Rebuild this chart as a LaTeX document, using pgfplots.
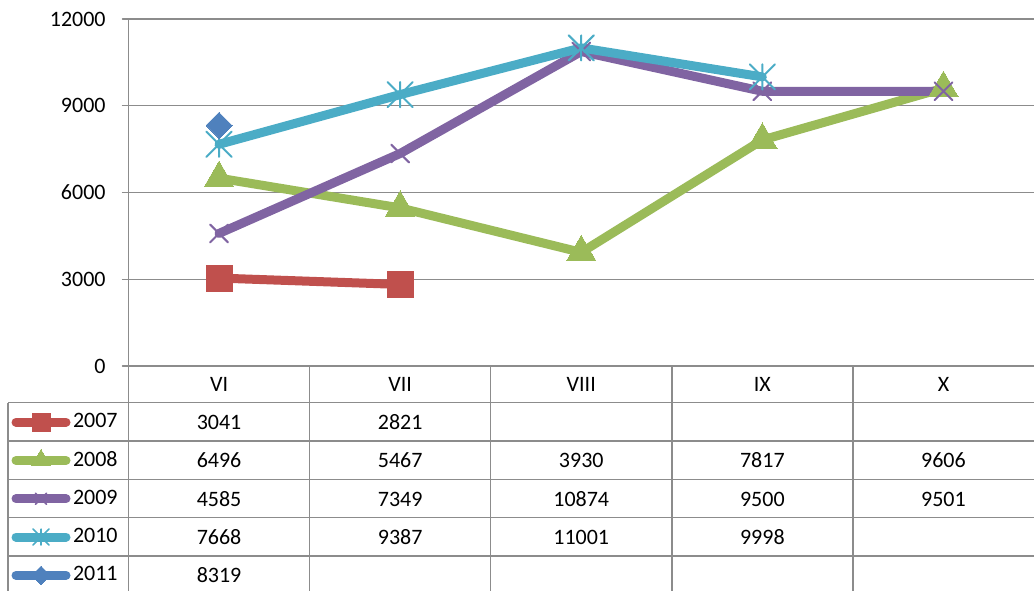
\documentclass[border=0pt]{standalone}
\usepackage{pgfplots}
\pgfplotsset{compat=1.18}
\usepackage{fontspec}
\setmainfont{Carlito}
\definecolor{c07}{HTML}{C0504D}
\definecolor{c08}{HTML}{9BBB59}
\definecolor{c09}{HTML}{8064A2}
\definecolor{c10}{HTML}{4BACC6}
\definecolor{c11}{HTML}{4F81BD}
\definecolor{gl}{HTML}{8C8C8C}
\pgfdeclareplotmark{xstar}{%
  \pgfpathmoveto{\pgfqpoint{-\pgfplotmarksize}{-\pgfplotmarksize}}%
  \pgfpathlineto{\pgfqpoint{\pgfplotmarksize}{\pgfplotmarksize}}%
  \pgfpathmoveto{\pgfqpoint{-\pgfplotmarksize}{\pgfplotmarksize}}%
  \pgfpathlineto{\pgfqpoint{\pgfplotmarksize}{-\pgfplotmarksize}}%
  \pgfpathmoveto{\pgfqpoint{0pt}{-\pgfplotmarksize}}%
  \pgfpathlineto{\pgfqpoint{0pt}{\pgfplotmarksize}}%
  \pgfusepathqstroke}
\begin{document}
\fontsize{11pt}{13pt}\selectfont
\begin{tikzpicture}
\useasboundingbox (0,0) rectangle (517pt,-295.5pt);
\begin{axis}[
  at={(64.25pt,-183pt)}, anchor=south west,
  scale only axis, width=452.75pt, height=173.5pt,
  xmin=-0.5, xmax=4.5, ymin=0, ymax=12000,
  clip=false,
  xtick=\empty,
  ytick={0,3000,6000,9000,12000},
  scaled y ticks=false,
  /pgf/number format/1000 sep={}, /pgf/number format/assume math mode=true,
  axis x line*=bottom, axis y line*=left,
  axis line style={gl, line width=0.7pt, -},
  ymajorgrids, grid style={gl, line width=0.7pt},
  tick align=outside, major tick length=3pt,
  ytick style={gl, line width=0.7pt},
  yticklabel style={anchor=east, inner sep=0pt, xshift=-8.25pt},
  line cap=round, line join=round,
  legend style={at={(axis description cs:-0.1292,-0.1066)}, anchor=north west,
    draw=none, fill=none, inner sep=0pt, outer sep=0pt, row sep=0pt, column sep=1.25pt,
    nodes={inner sep=0pt, outer sep=0pt, minimum height=19.15pt, anchor=west}},
  legend cell align=left,
  legend image code/.code={\draw[line cap=round, #1, mark repeat=2, mark phase=2]
     plot coordinates {(0pt,0pt)(12.5pt,0pt)(25pt,0pt)};},
]
\addplot[forget plot, c07, line width=4.5pt, mark=square*, mark size=6.5pt,
  mark options={line width=0pt, fill=c07}] coordinates {(0,3041)(1,2821)};
\addplot[forget plot, c08, line width=4.5pt, mark=triangle*, mark size=8.5pt,
  mark options={line width=0pt, fill=c08}] coordinates {(0,6496)(1,5467)(2,3930)(3,7817)(4,9606)};
\addplot[forget plot, c09, line width=4.5pt, mark=x, mark size=6.3pt,
  mark options={line width=1pt}] coordinates {(0,4585)(1,7349)(2,10874)(3,9500)(4,9501)};
\addplot[forget plot, c10, line width=4.5pt, mark=xstar, mark size=6.3pt,
  mark options={line width=1pt}] coordinates {(0,7668)(1,9387)(2,11001)(3,9998)};
\addplot[forget plot, c11, line width=4.5pt, mark=square*, mark size=4.6pt,
  mark options={rotate=45, line width=0pt, fill=c11}] coordinates {(0,8319)};
\addlegendimage{c07, line width=4.5pt, mark=square*, mark size=4.5pt, mark options={line width=0pt, fill=c07}}
\addlegendentry{2007}
\addlegendimage{c08, line width=4.5pt, mark=triangle*, mark size=5.5pt, mark options={line width=0pt, fill=c08}}
\addlegendentry{2008}
\addlegendimage{c09, line width=4.5pt, mark=x, mark size=4pt, mark options={line width=0.8pt}}
\addlegendentry{2009}
\addlegendimage{c10, line width=4.5pt, mark=xstar, mark size=4pt, mark options={line width=0.8pt}}
\addlegendentry{2010}
\addlegendimage{c11, line width=4.5pt, mark=square*, mark size=3.3pt, mark options={rotate=45, line width=0pt, fill=c11}}
\addlegendentry{2011}
\end{axis}
\begin{scope}[x=0.5pt, y=-0.5pt]
  \begin{scope}[draw=gl, line width=0.7pt]
    \draw (128.5,366) -- (128.5,591);
    \foreach \x in {309.6,490.7,671.8,852.9} \draw (\x,366) -- (\x,591);
    \draw (8,402.7) -- (8,591);
    \foreach \y in {402.7,441,479.3,517.7,556} \draw (8,\y) -- (1034,\y);
  \end{scope}
  \foreach \x/\t in {219.05/VI,400.15/VII,581.25/VIII,762.35/IX,943.45/X}
    \node[anchor=base, inner sep=0pt] at (\x,391.7) {\t};
  % 2007
  \node[anchor=base, inner sep=0pt] at (219.05,429) {3041};
  \node[anchor=base, inner sep=0pt] at (400.15,429) {2821};
  % 2008
  \node[anchor=base, inner sep=0pt] at (219.05,467.5) {6496};
  \node[anchor=base, inner sep=0pt] at (400.15,467.5) {5467};
  \node[anchor=base, inner sep=0pt] at (581.25,467.5) {3930};
  \node[anchor=base, inner sep=0pt] at (762.35,467.5) {7817};
  \node[anchor=base, inner sep=0pt] at (943.45,467.5) {9606};
  % 2009
  \node[anchor=base, inner sep=0pt] at (219.05,506) {4585};
  \node[anchor=base, inner sep=0pt] at (400.15,506) {7349};
  \node[anchor=base, inner sep=0pt] at (581.25,506) {10874};
  \node[anchor=base, inner sep=0pt] at (762.35,506) {9500};
  \node[anchor=base, inner sep=0pt] at (943.45,506) {9501};
  % 2010
  \node[anchor=base, inner sep=0pt] at (219.05,544.3) {7668};
  \node[anchor=base, inner sep=0pt] at (400.15,544.3) {9387};
  \node[anchor=base, inner sep=0pt] at (581.25,544.3) {11001};
  \node[anchor=base, inner sep=0pt] at (762.35,544.3) {9998};
  % 2011
  \node[anchor=base, inner sep=0pt] at (219.05,582.7) {8319};
\end{scope}
\end{tikzpicture}
\end{document}
